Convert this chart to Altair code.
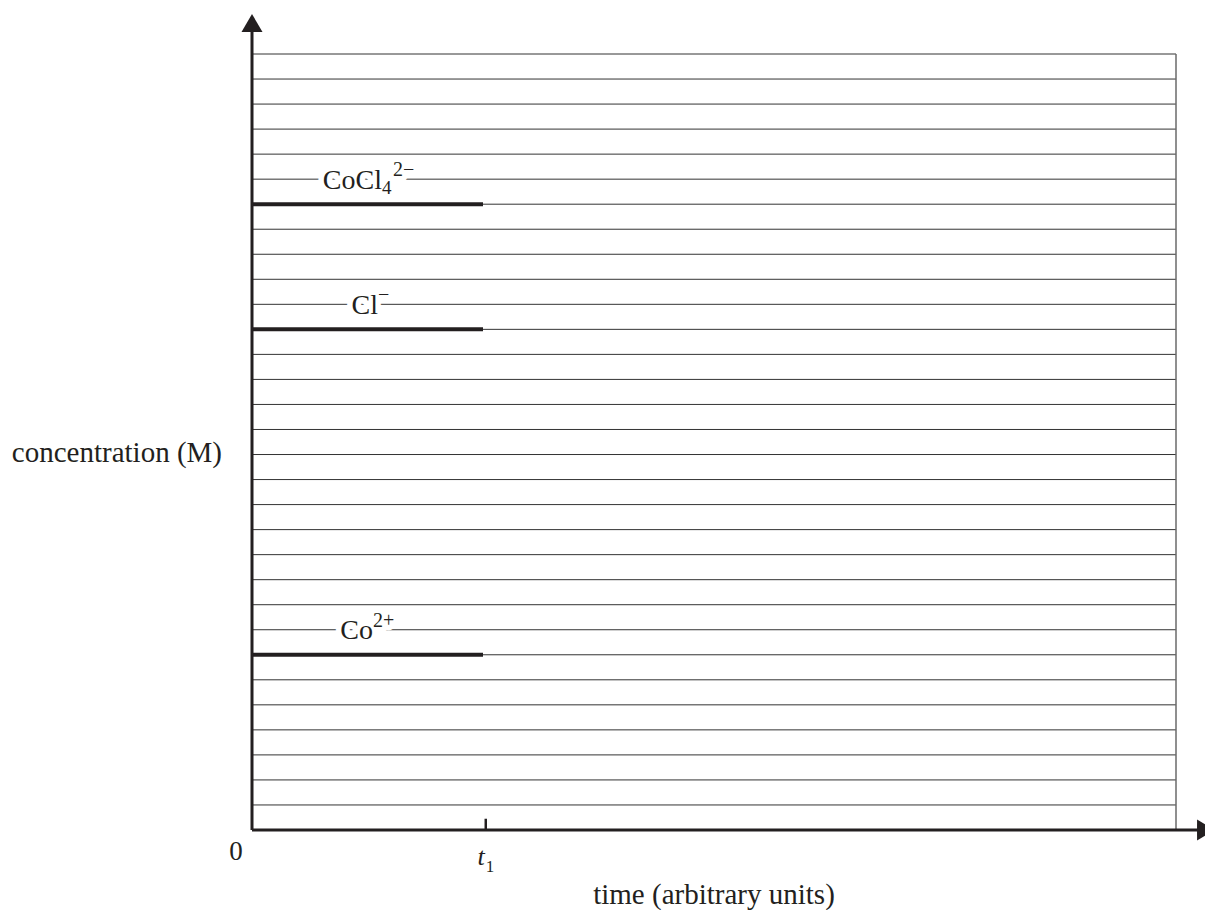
import altair as alt
import pandas as pd

# ---------------- data ----------------
x_max = 100                      # time axis span (arbitrary units)
y_max = 31                       # number of grid steps on the concentration axis
grid_levels = list(range(1, 32)) # horizontal ruled lines

species_main = ["CoCl", "Cl", "Co"]
species_sub = ["4", "", ""]
species_sup = ["2\u2212", "\u2212", "2+"]
species_conc = [25, 20, 7]        # concentration level of each thick line
line_start = [0, 0, 0]
line_end = [25.0, 25.0, 25.0]
label_level = [26, 21, 8]         # ruled line on which each label sits
label_x = [14.07, 13.64, 13.1]    # junction between main text and sub/superscript
sup_x = [15.26, 13.64, 13.1]      # start of the superscript

t1 = 25.3
x_arrow = 103.25
y_arrow = 32.24

y_title = "concentration (M)"
x_title = "time (arbitrary units)"

INK = "#231f20"
FONT = "Liberation Serif"

xs = alt.Scale(domain=[0, x_max], nice=False, zero=False)
ys = alt.Scale(domain=[0, y_max], nice=False, zero=False)


def X(f):
    return alt.X(f, type="quantitative", scale=xs, axis=None)


def Y(f):
    return alt.Y(f, type="quantitative", scale=ys, axis=None)


grid_df = pd.DataFrame({"y": grid_levels, "x": 0, "x2": x_max})
grid = alt.Chart(grid_df).mark_rule(color="#333333", strokeWidth=1).encode(
    x=X("x"), x2="x2", y=Y("y")
)

border = alt.Chart(pd.DataFrame({"x": [x_max], "y": [0], "y2": [y_max]})).mark_rule(
    color="#6a6a6a", strokeWidth=1.5
).encode(x=X("x"), y=Y("y"), y2="y2")

yaxis = alt.Chart(pd.DataFrame({"x": [0], "y": [0], "y2": [y_arrow]})).mark_rule(
    color=INK, strokeWidth=3
).encode(x=X("x"), y=Y("y"), y2="y2")

xaxis = alt.Chart(pd.DataFrame({"x": [0], "x2": [x_arrow], "y": [0]})).mark_rule(
    color=INK, strokeWidth=3
).encode(x=X("x"), x2="x2", y=Y("y"))

yarrow = alt.Chart(pd.DataFrame({"x": [0], "y": [y_arrow]})).mark_point(
    shape="M-1,0.857L0,-0.857L1,0.857Z", size=441, filled=True, color=INK, opacity=1
).encode(x=X("x"), y=Y("y"))

xarrow = alt.Chart(pd.DataFrame({"x": [x_arrow], "y": [0]})).mark_point(
    shape="M-0.857,-1L0.857,0L-0.857,1Z", size=441, filled=True, color=INK, opacity=1
).encode(x=X("x"), y=Y("y"))

tick = alt.Chart(pd.DataFrame({"x": [t1], "y": [0], "y2": [0.45]})).mark_rule(
    color=INK, strokeWidth=2.5
).encode(x=X("x"), y=Y("y"), y2="y2")

lines_df = pd.DataFrame({"x": line_start, "x2": line_end, "y": species_conc})
thick = alt.Chart(lines_df).mark_rule(color=INK, strokeWidth=4).encode(
    x=X("x"), x2="x2", y=Y("y")
)

lab_df = pd.DataFrame({
    "x": label_x, "xs": sup_x, "y": label_level,
    "main": species_main, "sub": species_sub, "sup": species_sup,
})


def label_layers(halo):
    kw = dict(font=FONT, baseline="alphabetic")
    if halo:
        kw.update(color="white", stroke="white", strokeWidth=11, strokeJoin="round")
    else:
        kw.update(color=INK)
    base = alt.Chart(lab_df)
    main = base.mark_text(align="right", fontSize=28, dy=9.5, **kw).encode(
        x=X("x"), y=Y("y"), text="main:N"
    )
    sub = base.mark_text(align="left", fontSize=19, dy=15, **kw).encode(
        x=X("x"), y=Y("y"), text="sub:N"
    )
    sup = base.mark_text(align="left", fontSize=20, dy=-3, **kw).encode(
        x=X("xs"), y=Y("y"), text="sup:N"
    )
    return [main, sub, sup]


zero_lbl = alt.Chart(pd.DataFrame({"x": [0], "y": [0], "t": ["0"]})).mark_text(
    font=FONT, fontSize=27, align="center", baseline="alphabetic", dx=-16, dy=30, color=INK
).encode(x=X("x"), y=Y("y"), text="t:N")

t_lbl = alt.Chart(pd.DataFrame({"x": [t1], "y": [0], "t": ["t"]})).mark_text(
    font=FONT, fontSize=26, fontStyle="italic", align="right", baseline="alphabetic",
    dx=-1, dy=35, color=INK
).encode(x=X("x"), y=Y("y"), text="t:N")

one_lbl = alt.Chart(pd.DataFrame({"x": [t1], "y": [0], "t": ["1"]})).mark_text(
    font=FONT, fontSize=17, align="left", baseline="alphabetic", dx=0, dy=42, color=INK
).encode(x=X("x"), y=Y("y"), text="t:N")

ytitle = alt.Chart(pd.DataFrame({"x": [0], "y": [y_max / 2], "t": [y_title]})).mark_text(
    font=FONT, fontSize=29, align="right", baseline="alphabetic", dx=-30, dy=20, color=INK
).encode(x=X("x"), y=Y("y"), text="t:N")

xtitle = alt.Chart(pd.DataFrame({"x": [x_max / 2], "y": [0], "t": [x_title]})).mark_text(
    font=FONT, fontSize=29, align="center", baseline="alphabetic", dy=74, color=INK
).encode(x=X("x"), y=Y("y"), text="t:N")

chart = alt.layer(
    grid, border, tick, thick,
    *label_layers(True), *label_layers(False),
    yaxis, xaxis, yarrow, xarrow,
    zero_lbl, t_lbl, one_lbl, ytitle, xtitle,
).properties(
    width=924, height=776,
    autosize=alt.AutoSizeParams(type="none"),
    padding={"left": 252, "top": 54, "right": 29, "bottom": 80},
).configure_view(strokeWidth=0)

chart.save("out.html", embed_options={"renderer": "svg", "actions": False})
